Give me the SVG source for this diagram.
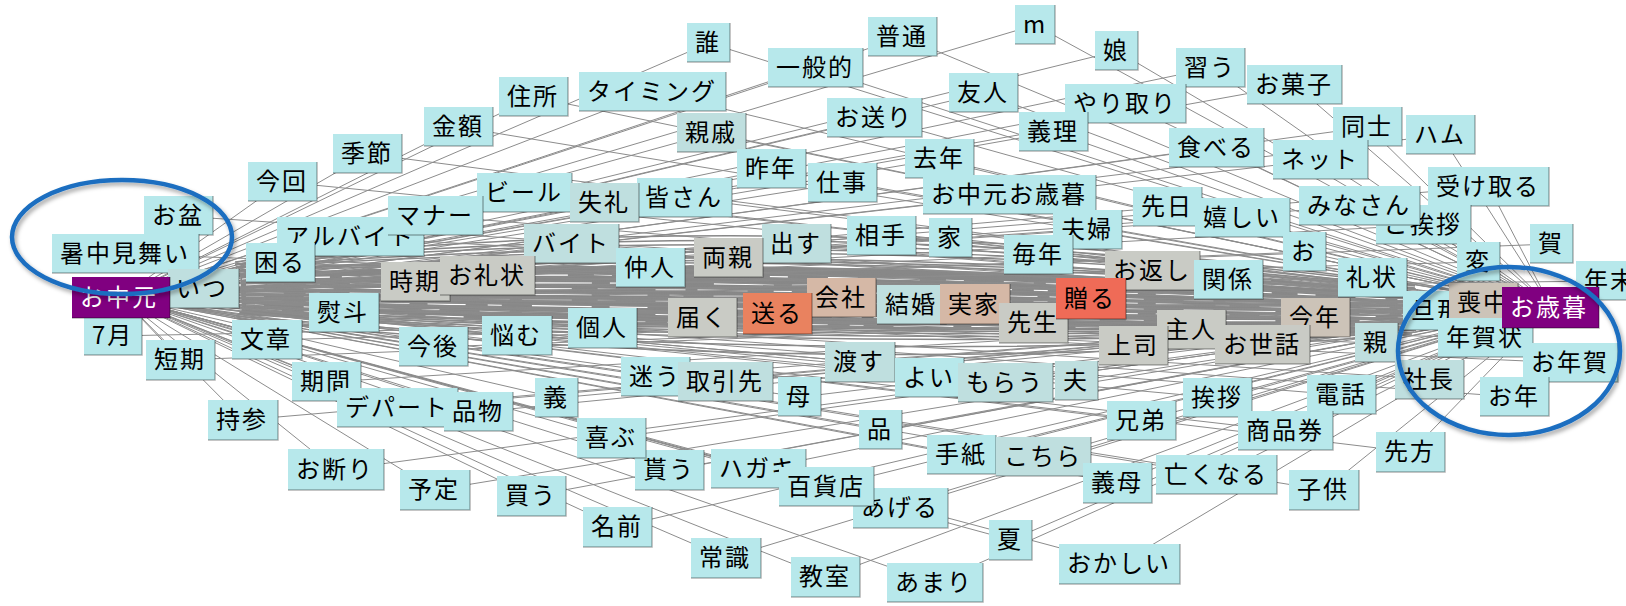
<svg xmlns="http://www.w3.org/2000/svg" width="1626" height="606" viewBox="0 0 1626 606">
<style>
.e{fill:none;stroke:#8c8c8c;stroke-width:1}
.band{fill:none;stroke:#888;stroke-width:1.5}
.core{fill:#888;stroke:none}
.streak{fill:none;stroke:#fff;stroke-width:1.2}
.nd rect{fill:#b7e8eb}
.nd path{fill:none;stroke:#000;stroke-opacity:.3;stroke-width:1.5}
.nd text{font-family:"Noto Sans CJK JP","Noto Sans",sans-serif;font-size:24px;letter-spacing:2px;fill:#000}
.g rect{fill:#bfdfdf}
.s rect{fill:#c9cbc5}
.s2 rect{fill:#ccc3b8}
.t rect{fill:#d5b8a6}
.o rect{fill:#e9825f}
.r rect{fill:#ef6b57}
.p rect{fill:#800080}
.p text{fill:#fff}
.ring{fill:none;stroke:#1a6ec0;stroke-width:4.5}
</style>
<defs>
<filter id="sh" x="-10%" y="-10%" width="120%" height="130%"><feDropShadow dx="2" dy="3" stdDeviation="2" flood-color="#000" flood-opacity="0.35"/></filter>
</defs>
<rect width="1626" height="606" fill="#fff"/>
<g id="connectors">
<path class="core" d="M240,274Q820,250 1420,296L1420,326Q820,340 242,310Z"/>
<path class="band" d="M235,262Q820,200 1415,285M235,264Q820,208 1415,286M235,265Q820,215 1415,288M236,267Q820,222 1416,289M238,268Q820,228 1418,290M238,270Q820,238 1418,292M240,271Q820,242 1419,293M240,272Q820,246 1420,294M240,274Q820,252 1420,296M242,276Q820,258 1420,298M242,278Q820,263 1422,300M244,280Q820,267 1422,302M244,282Q820,271 1424,304M246,284Q820,275 1424,305M246,286Q820,279 1424,306M246,288Q820,283 1426,308M246,290Q820,287 1426,310M246,292Q820,291 1426,311M246,294Q820,295 1426,312M246,296Q820,299 1426,314M246,298Q820,303 1426,315M246,300Q820,308 1426,316M246,302Q820,313 1426,318M246,304Q820,318 1424,320M244,306Q820,324 1424,322M244,308Q820,330 1422,324M242,310Q820,337 1420,326M241,311Q820,341 1419,327M240,312Q820,345 1418,328M239,313Q820,350 1417,329M238,314Q820,355 1416,330M236,316Q820,368 1414,332M234,318Q820,382 1412,334"/>
<path class="streak" stroke-dasharray="38 22 14 30 60 18" d="M246,285Q820,276 1424,305M246,293Q820,293 1426,311M246,301Q820,311 1426,317M244,309Q820,333 1422,325"/>
<path class="streak" stroke-dasharray="18 40 30 12 50 26" d="M246,289Q820,285 1426,309M246,297Q820,301 1426,315M246,305Q820,321 1424,321M242,279Q820,265 1422,301"/>
<path id="e-ochugen" class="e" d="M121 297L709 43M121 297L903 37M121 297L1035 25M121 297L1117 51M121 297L1211 68M121 297L815 68M121 297L653 92M121 297L534 97M121 297L984 93M121 297L1126 104M121 297L1295 85M121 297L875 118M121 297L459 127M121 297L712 133M121 297L1054 132M121 297L1368 127M121 297L1441 135M121 297L1217 148M121 297L1321 160M121 297L368 154M121 297L772 169M121 297L940 159M121 297L283 182M121 297L843 183M121 297L1489 187M121 297L1010 195M121 297L525 193M121 297L685 198M121 297L605 203M121 297L1168 207M121 297L1360 206M121 297L436 216M121 297L1243 218M121 297L1423 225M121 297L1088 230M121 297L882 236M121 297L951 238M121 297L351 237M121 297L797 244M121 297L572 244M121 297L1552 244M121 297L1039 255M121 297L1305 252M121 297L729 258M121 297L1479 262M121 297L281 263M121 297L651 268M121 297L1153 271M121 297L488 276M121 297L416 282M121 297L1373 278M121 297L1229 279M121 297L1610 281M121 297L842 298M121 297L1091 299M121 297L1484 303M121 297L912 305M121 297L975 305M121 297L1438 311M121 297L778 314M121 297L344 313M121 297L703 318M121 297L1316 318M121 297L1034 323M121 297L603 328M121 297L1192 330M121 297L517 336M121 297L267 340M121 297L1263 345M121 297L1485 338M121 297L1377 343M121 297L1134 346M121 297L434 347M121 297L181 360M121 297L860 362M121 297L1570 363M121 297L656 377M121 297L930 378M121 297L1430 379M121 297L1077 381M121 297L327 382M121 297L726 382M121 297L1006 383M121 297L1342 395M121 297L800 397M121 297L1515 397M121 297L557 398M121 297L1218 398M121 297L398 408M121 297L479 412M121 297L243 420M121 297L1142 421M121 297L881 430M121 297L1286 431M121 297L612 438M121 297L1411 452M121 297L962 455M121 297L1044 457M121 297L759 469M121 297L670 470M121 297L336 470M121 297L1217 475M121 297L1118 483M121 297L827 487M121 297L435 490M121 297L1324 490M121 297L532 496M121 297L901 508M121 297L618 527M121 297L1011 540M121 297L726 558M121 297L1120 564M121 297L826 577M121 297L935 583M121 297L1551 307"/>
<path id="e-oseibo" class="e" d="M1551 307L709 43M1551 307L903 37M1551 307L1035 25M1551 307L1117 51M1551 307L1211 68M1551 307L815 68M1551 307L653 92M1551 307L534 97M1551 307L984 93M1551 307L1126 104M1551 307L1295 85M1551 307L875 118M1551 307L459 127M1551 307L712 133M1551 307L1054 132M1551 307L1368 127M1551 307L1441 135M1551 307L1217 148M1551 307L1321 160M1551 307L368 154M1551 307L772 169M1551 307L940 159M1551 307L283 182M1551 307L843 183M1551 307L1489 187M1551 307L1010 195M1551 307L525 193M1551 307L685 198M1551 307L605 203M1551 307L1168 207M1551 307L1360 206M1551 307L436 216M1551 307L179 216M1551 307L1243 218M1551 307L1423 225M1551 307L1088 230M1551 307L882 236M1551 307L951 238M1551 307L351 237M1551 307L797 244M1551 307L572 244M1551 307L126 254M1551 307L1039 255M1551 307L1305 252M1551 307L729 258M1551 307L281 263M1551 307L651 268M1551 307L1153 271M1551 307L488 276M1551 307L416 282M1551 307L1373 278M1551 307L1229 279M1551 307L204 289M1551 307L842 298M1551 307L1091 299M1551 307L912 305M1551 307L975 305M1551 307L778 314M1551 307L344 313M1551 307L703 318M1551 307L1316 318M1551 307L1034 323M1551 307L603 328M1551 307L1192 330M1551 307L517 336M1551 307L267 340M1551 307L113 336M1551 307L1263 345M1551 307L1377 343M1551 307L1134 346M1551 307L434 347M1551 307L181 360M1551 307L860 362M1551 307L656 377M1551 307L930 378M1551 307L1430 379M1551 307L1077 381M1551 307L327 382M1551 307L726 382M1551 307L1006 383M1551 307L1342 395M1551 307L800 397M1551 307L557 398M1551 307L1218 398M1551 307L398 408M1551 307L479 412M1551 307L243 420M1551 307L1142 421M1551 307L881 430M1551 307L1286 431M1551 307L612 438M1551 307L1411 452M1551 307L962 455M1551 307L1044 457M1551 307L759 469M1551 307L670 470M1551 307L336 470M1551 307L1217 475M1551 307L1118 483M1551 307L827 487M1551 307L435 490M1551 307L1324 490M1551 307L532 496M1551 307L901 508M1551 307L618 527M1551 307L1011 540M1551 307L726 558M1551 307L1120 564M1551 307L826 577M1551 307L935 583"/>
</g>
<g id="nodes">
<g id="n1" class="nd" transform="translate(687 23)"><rect width="43" height="39"/><path d="M0 39H43V0"/><text x="8" y="28">誰</text></g>
<g id="n2" class="nd" transform="translate(868 17)"><rect width="69" height="39"/><path d="M0 39H69V0"/><text x="8" y="28">普通</text></g>
<g id="n3" class="nd" transform="translate(1015 5)"><rect width="40" height="39"/><path d="M0 39H40V0"/><text x="8" y="28">m</text></g>
<g id="n4" class="nd" transform="translate(1095 31)"><rect width="43" height="39"/><path d="M0 39H43V0"/><text x="8" y="28">娘</text></g>
<g id="n5" class="nd" transform="translate(768 48)"><rect width="95" height="39"/><path d="M0 39H95V0"/><text x="8" y="28">一般的</text></g>
<g id="n6" class="nd" transform="translate(1176 48)"><rect width="69" height="39"/><path d="M0 39H69V0"/><text x="8" y="28">習う</text></g>
<g id="n7" class="nd" transform="translate(1247 65)"><rect width="95" height="39"/><path d="M0 39H95V0"/><text x="8" y="28">お菓子</text></g>
<g id="n8" class="nd" transform="translate(579 72)"><rect width="147" height="39"/><path d="M0 39H147V0"/><text x="8" y="28">タイミング</text></g>
<g id="n9" class="nd" transform="translate(949 73)"><rect width="69" height="39"/><path d="M0 39H69V0"/><text x="8" y="28">友人</text></g>
<g id="n10" class="nd" transform="translate(499 77)"><rect width="69" height="39"/><path d="M0 39H69V0"/><text x="8" y="28">住所</text></g>
<g id="n11" class="nd" transform="translate(1065 84)"><rect width="121" height="39"/><path d="M0 39H121V0"/><text x="8" y="28">やり取り</text></g>
<g id="n12" class="nd" transform="translate(827 98)"><rect width="95" height="39"/><path d="M0 39H95V0"/><text x="8" y="28">お送り</text></g>
<g id="n13" class="nd" transform="translate(424 107)"><rect width="69" height="39"/><path d="M0 39H69V0"/><text x="8" y="28">金額</text></g>
<g id="n14" class="nd" transform="translate(1333 107)"><rect width="69" height="39"/><path d="M0 39H69V0"/><text x="8" y="28">同士</text></g>
<g id="n15" class="nd" transform="translate(1019 112)"><rect width="69" height="39"/><path d="M0 39H69V0"/><text x="8" y="28">義理</text></g>
<g id="n16" class="nd g" transform="translate(677 113)"><rect width="69" height="39"/><path d="M0 39H69V0"/><text x="8" y="28">親戚</text></g>
<g id="n17" class="nd" transform="translate(1406 115)"><rect width="69" height="39"/><path d="M0 39H69V0"/><text x="8" y="28">ハム</text></g>
<g id="n18" class="nd" transform="translate(1169 128)"><rect width="95" height="39"/><path d="M0 39H95V0"/><text x="8" y="28">食べる</text></g>
<g id="n19" class="nd" transform="translate(333 134)"><rect width="69" height="39"/><path d="M0 39H69V0"/><text x="8" y="28">季節</text></g>
<g id="n20" class="nd" transform="translate(905 139)"><rect width="69" height="39"/><path d="M0 39H69V0"/><text x="8" y="28">去年</text></g>
<g id="n21" class="nd" transform="translate(1273 140)"><rect width="95" height="39"/><path d="M0 39H95V0"/><text x="8" y="28">ネット</text></g>
<g id="n22" class="nd" transform="translate(737 149)"><rect width="69" height="39"/><path d="M0 39H69V0"/><text x="8" y="28">昨年</text></g>
<g id="n23" class="nd" transform="translate(248 162)"><rect width="69" height="39"/><path d="M0 39H69V0"/><text x="8" y="28">今回</text></g>
<g id="n24" class="nd" transform="translate(808 163)"><rect width="69" height="39"/><path d="M0 39H69V0"/><text x="8" y="28">仕事</text></g>
<g id="n25" class="nd" transform="translate(1428 167)"><rect width="121" height="39"/><path d="M0 39H121V0"/><text x="8" y="28">受け取る</text></g>
<g id="n26" class="nd" transform="translate(477 173)"><rect width="95" height="39"/><path d="M0 39H95V0"/><text x="8" y="28">ビール</text></g>
<g id="n27" class="nd" transform="translate(923 175)"><rect width="173" height="39"/><path d="M0 39H173V0"/><text x="8" y="28">お中元お歳暮</text></g>
<g id="n28" class="nd" transform="translate(637 178)"><rect width="95" height="39"/><path d="M0 39H95V0"/><text x="8" y="28">皆さん</text></g>
<g id="n29" class="nd g" transform="translate(570 183)"><rect width="69" height="39"/><path d="M0 39H69V0"/><text x="8" y="28">失礼</text></g>
<g id="n30" class="nd" transform="translate(1133 187)"><rect width="69" height="39"/><path d="M0 39H69V0"/><text x="8" y="28">先日</text></g>
<g id="n31" class="nd" transform="translate(1376 205)"><rect width="95" height="39"/><path d="M0 39H95V0"/><text x="8" y="28">ご挨拶</text></g>
<g id="n32" class="nd" transform="translate(1299 186)"><rect width="121" height="39"/><path d="M0 39H121V0"/><text x="8" y="28">みなさん</text></g>
<g id="n33" class="nd" transform="translate(144 196)"><rect width="69" height="39"/><path d="M0 39H69V0"/><text x="8" y="28">お盆</text></g>
<g id="n34" class="nd" transform="translate(1195 198)"><rect width="95" height="39"/><path d="M0 39H95V0"/><text x="8" y="28">嬉しい</text></g>
<g id="n35" class="nd" transform="translate(1053 210)"><rect width="69" height="39"/><path d="M0 39H69V0"/><text x="8" y="28">夫婦</text></g>
<g id="n36" class="nd" transform="translate(847 216)"><rect width="69" height="39"/><path d="M0 39H69V0"/><text x="8" y="28">相手</text></g>
<g id="n37" class="nd" transform="translate(277 217)"><rect width="147" height="39"/><path d="M0 39H147V0"/><text x="8" y="28">アルバイト</text></g>
<g id="n38" class="nd" transform="translate(388 196)"><rect width="95" height="39"/><path d="M0 39H95V0"/><text x="8" y="28">マナー</text></g>
<g id="n39" class="nd" transform="translate(929 218)"><rect width="43" height="39"/><path d="M0 39H43V0"/><text x="8" y="28">家</text></g>
<g id="n40" class="nd g" transform="translate(762 224)"><rect width="69" height="39"/><path d="M0 39H69V0"/><text x="8" y="28">出す</text></g>
<g id="n41" class="nd g" transform="translate(524 224)"><rect width="95" height="39"/><path d="M0 39H95V0"/><text x="8" y="28">バイト</text></g>
<g id="n42" class="nd" transform="translate(1530 224)"><rect width="43" height="39"/><path d="M0 39H43V0"/><text x="8" y="28">賀</text></g>
<g id="n43" class="nd" transform="translate(1283 232)"><rect width="43" height="39"/><path d="M0 39H43V0"/><text x="8" y="28">お</text></g>
<g id="n44" class="nd" transform="translate(52 234)"><rect width="147" height="39"/><path d="M0 39H147V0"/><text x="8" y="28">暑中見舞い</text></g>
<g id="n45" class="nd" transform="translate(1004 235)"><rect width="69" height="39"/><path d="M0 39H69V0"/><text x="8" y="28">毎年</text></g>
<g id="n46" class="nd s" transform="translate(694 238)"><rect width="69" height="39"/><path d="M0 39H69V0"/><text x="8" y="28">両親</text></g>
<g id="n47" class="nd" transform="translate(1457 242)"><rect width="43" height="39"/><path d="M0 39H43V0"/><text x="8" y="28">変</text></g>
<g id="n48" class="nd" transform="translate(246 243)"><rect width="69" height="39"/><path d="M0 39H69V0"/><text x="8" y="28">困る</text></g>
<g id="n49" class="nd" transform="translate(616 248)"><rect width="69" height="39"/><path d="M0 39H69V0"/><text x="8" y="28">仲人</text></g>
<g id="n50" class="nd s" transform="translate(1105 251)"><rect width="95" height="39"/><path d="M0 39H95V0"/><text x="8" y="28">お返し</text></g>
<g id="n51" class="nd s" transform="translate(381 262)"><rect width="69" height="39"/><path d="M0 39H69V0"/><text x="8" y="28">時期</text></g>
<g id="n52" class="nd s" transform="translate(440 256)"><rect width="95" height="39"/><path d="M0 39H95V0"/><text x="8" y="28">お礼状</text></g>
<g id="n53" class="nd" transform="translate(1338 258)"><rect width="69" height="39"/><path d="M0 39H69V0"/><text x="8" y="28">礼状</text></g>
<g id="n54" class="nd" transform="translate(1194 260)"><rect width="69" height="39"/><path d="M0 39H69V0"/><text x="8" y="28">関係</text></g>
<g id="n55" class="nd" transform="translate(1576 261)"><rect width="69" height="39"/><path d="M0 39H69V0"/><text x="8" y="28">年末</text></g>
<g id="n56" class="nd g" transform="translate(168 269)"><rect width="71" height="39"/><path d="M0 39H71V0"/><text x="8" y="28">いつ</text></g>
<g id="n57" class="nd t" transform="translate(807 278)"><rect width="69" height="39"/><path d="M0 39H69V0"/><text x="8" y="28">会社</text></g>
<g id="n58" class="nd g" transform="translate(877 285)"><rect width="69" height="39"/><path d="M0 39H69V0"/><text x="8" y="28">結婚</text></g>
<g id="n59" class="nd t" transform="translate(940 284)"><rect width="70" height="40"/><path d="M0 40H70V0"/><text x="8" y="29">実家</text></g>
<g id="n60" class="nd" transform="translate(1403 291)"><rect width="69" height="39"/><path d="M0 39H69V0"/><text x="8" y="28">旦那</text></g>
<g id="n61" class="nd s2" transform="translate(1449 283)"><rect width="69" height="39"/><path d="M0 39H69V0"/><text x="8" y="28">喪中</text></g>
<g id="n62" class="nd o" transform="translate(743 293)"><rect width="69" height="41"/><path d="M0 41H69V0"/><text x="8" y="29">送る</text></g>
<g id="n63" class="nd" transform="translate(309 293)"><rect width="70" height="39"/><path d="M0 39H70V0"/><text x="8" y="28">熨斗</text></g>
<g id="n64" class="nd s" transform="translate(668 298)"><rect width="69" height="39"/><path d="M0 39H69V0"/><text x="8" y="28">届く</text></g>
<g id="n65" class="nd s2" transform="translate(1281 298)"><rect width="69" height="39"/><path d="M0 39H69V0"/><text x="8" y="28">今年</text></g>
<g id="n66" class="nd s" transform="translate(999 303)"><rect width="69" height="40"/><path d="M0 40H69V0"/><text x="8" y="28">先生</text></g>
<g id="n67" class="nd r" transform="translate(1056 278)"><rect width="70" height="41"/><path d="M0 41H70V0"/><text x="8" y="29">贈る</text></g>
<g id="n68" class="nd" transform="translate(568 308)"><rect width="69" height="40"/><path d="M0 40H69V0"/><text x="8" y="28">個人</text></g>
<g id="n69" class="nd s" transform="translate(1157 310)"><rect width="69" height="39"/><path d="M0 39H69V0"/><text x="8" y="28">主人</text></g>
<g id="n70" class="nd" transform="translate(482 316)"><rect width="70" height="39"/><path d="M0 39H70V0"/><text x="8" y="28">悩む</text></g>
<g id="n71" class="nd" transform="translate(232 320)"><rect width="70" height="39"/><path d="M0 39H70V0"/><text x="8" y="28">文章</text></g>
<g id="n72" class="nd" transform="translate(84 316)"><rect width="58" height="39"/><path d="M0 39H58V0"/><text x="8" y="28">7月</text></g>
<g id="n73" class="nd" transform="translate(1438 318)"><rect width="95" height="39"/><path d="M0 39H95V0"/><text x="8" y="28">年賀状</text></g>
<g id="n74" class="nd g" transform="translate(1355 323)"><rect width="43" height="39"/><path d="M0 39H43V0"/><text x="8" y="28">親</text></g>
<g id="n75" class="nd s" transform="translate(1215 325)"><rect width="95" height="39"/><path d="M0 39H95V0"/><text x="8" y="28">お世話</text></g>
<g id="n76" class="nd s" transform="translate(1099 326)"><rect width="69" height="39"/><path d="M0 39H69V0"/><text x="8" y="28">上司</text></g>
<g id="n77" class="nd" transform="translate(399 327)"><rect width="69" height="39"/><path d="M0 39H69V0"/><text x="8" y="28">今後</text></g>
<g id="n78" class="nd" transform="translate(146 340)"><rect width="69" height="40"/><path d="M0 40H69V0"/><text x="8" y="28">短期</text></g>
<g id="n79" class="nd g" transform="translate(825 342)"><rect width="70" height="40"/><path d="M0 40H70V0"/><text x="8" y="28">渡す</text></g>
<g id="n80" class="nd" transform="translate(1523 343)"><rect width="95" height="39"/><path d="M0 39H95V0"/><text x="8" y="28">お年賀</text></g>
<g id="n81" class="nd" transform="translate(621 357)"><rect width="69" height="39"/><path d="M0 39H69V0"/><text x="8" y="28">迷う</text></g>
<g id="n82" class="nd" transform="translate(895 358)"><rect width="69" height="39"/><path d="M0 39H69V0"/><text x="8" y="28">よい</text></g>
<g id="n83" class="nd g" transform="translate(1395 360)"><rect width="69" height="39"/><path d="M0 39H69V0"/><text x="8" y="28">社長</text></g>
<g id="n84" class="nd g" transform="translate(1055 361)"><rect width="43" height="39"/><path d="M0 39H43V0"/><text x="8" y="28">夫</text></g>
<g id="n85" class="nd" transform="translate(292 362)"><rect width="69" height="39"/><path d="M0 39H69V0"/><text x="8" y="28">期間</text></g>
<g id="n86" class="nd g" transform="translate(678 362)"><rect width="95" height="39"/><path d="M0 39H95V0"/><text x="8" y="28">取引先</text></g>
<g id="n87" class="nd g" transform="translate(958 363)"><rect width="95" height="39"/><path d="M0 39H95V0"/><text x="8" y="28">もらう</text></g>
<g id="n88" class="nd" transform="translate(1307 375)"><rect width="69" height="39"/><path d="M0 39H69V0"/><text x="8" y="28">電話</text></g>
<g id="n89" class="nd" transform="translate(778 377)"><rect width="43" height="39"/><path d="M0 39H43V0"/><text x="8" y="28">母</text></g>
<g id="n90" class="nd" transform="translate(1480 377)"><rect width="69" height="39"/><path d="M0 39H69V0"/><text x="8" y="28">お年</text></g>
<g id="n91" class="nd" transform="translate(535 378)"><rect width="43" height="39"/><path d="M0 39H43V0"/><text x="8" y="28">義</text></g>
<g id="n92" class="nd" transform="translate(1183 378)"><rect width="69" height="39"/><path d="M0 39H69V0"/><text x="8" y="28">挨拶</text></g>
<g id="n93" class="nd" transform="translate(337 388)"><rect width="121" height="39"/><path d="M0 39H121V0"/><text x="8" y="28">デパート</text></g>
<g id="n94" class="nd" transform="translate(444 392)"><rect width="69" height="39"/><path d="M0 39H69V0"/><text x="8" y="28">品物</text></g>
<g id="n95" class="nd" transform="translate(208 400)"><rect width="70" height="40"/><path d="M0 40H70V0"/><text x="8" y="28">持参</text></g>
<g id="n96" class="nd" transform="translate(1107 401)"><rect width="69" height="39"/><path d="M0 39H69V0"/><text x="8" y="28">兄弟</text></g>
<g id="n97" class="nd" transform="translate(859 410)"><rect width="43" height="39"/><path d="M0 39H43V0"/><text x="8" y="28">品</text></g>
<g id="n98" class="nd" transform="translate(1238 411)"><rect width="95" height="39"/><path d="M0 39H95V0"/><text x="8" y="28">商品券</text></g>
<g id="n99" class="nd" transform="translate(635 450)"><rect width="69" height="40"/><path d="M0 40H69V0"/><text x="8" y="28">貰う</text></g>
<g id="n100" class="nd" transform="translate(577 418)"><rect width="69" height="40"/><path d="M0 40H69V0"/><text x="8" y="28">喜ぶ</text></g>
<g id="n101" class="nd" transform="translate(1376 432)"><rect width="69" height="40"/><path d="M0 40H69V0"/><text x="8" y="28">先方</text></g>
<g id="n102" class="nd" transform="translate(927 435)"><rect width="69" height="39"/><path d="M0 39H69V0"/><text x="8" y="28">手紙</text></g>
<g id="n103" class="nd g" transform="translate(996 437)"><rect width="95" height="39"/><path d="M0 39H95V0"/><text x="8" y="28">こちら</text></g>
<g id="n104" class="nd" transform="translate(711 449)"><rect width="95" height="39"/><path d="M0 39H95V0"/><text x="8" y="28">ハガキ</text></g>
<g id="n105" class="nd" transform="translate(288 449)"><rect width="96" height="41"/><path d="M0 41H96V0"/><text x="8" y="29">お断り</text></g>
<g id="n106" class="nd" transform="translate(1156 455)"><rect width="121" height="39"/><path d="M0 39H121V0"/><text x="8" y="28">亡くなる</text></g>
<g id="n107" class="nd" transform="translate(1083 463)"><rect width="69" height="40"/><path d="M0 40H69V0"/><text x="8" y="28">義母</text></g>
<g id="n108" class="nd" transform="translate(853 488)"><rect width="95" height="40"/><path d="M0 40H95V0"/><text x="8" y="28">あげる</text></g>
<g id="n109" class="nd" transform="translate(779 467)"><rect width="95" height="39"/><path d="M0 39H95V0"/><text x="8" y="28">百貨店</text></g>
<g id="n110" class="nd" transform="translate(400 470)"><rect width="70" height="40"/><path d="M0 40H70V0"/><text x="8" y="28">予定</text></g>
<g id="n111" class="nd" transform="translate(1289 470)"><rect width="70" height="40"/><path d="M0 40H70V0"/><text x="8" y="28">子供</text></g>
<g id="n112" class="nd" transform="translate(497 476)"><rect width="69" height="40"/><path d="M0 40H69V0"/><text x="8" y="28">買う</text></g>
<g id="n113" class="nd" transform="translate(583 507)"><rect width="69" height="40"/><path d="M0 40H69V0"/><text x="8" y="28">名前</text></g>
<g id="n114" class="nd" transform="translate(989 520)"><rect width="43" height="40"/><path d="M0 40H43V0"/><text x="8" y="28">夏</text></g>
<g id="n115" class="nd" transform="translate(691 538)"><rect width="70" height="40"/><path d="M0 40H70V0"/><text x="8" y="28">常識</text></g>
<g id="n116" class="nd" transform="translate(1059 544)"><rect width="121" height="40"/><path d="M0 40H121V0"/><text x="8" y="28">おかしい</text></g>
<g id="n117" class="nd" transform="translate(791 557)"><rect width="69" height="40"/><path d="M0 40H69V0"/><text x="8" y="28">教室</text></g>
<g id="n118" class="nd" transform="translate(887 563)"><rect width="96" height="39"/><path d="M0 39H96V0"/><text x="8" y="28">あまり</text></g>
<g id="hub-ochugen" class="nd p" transform="translate(72 277)"><rect width="98" height="41"/><path d="M0 41H98V0"/><text x="8" y="29">お中元</text></g>
<g id="hub-oseibo" class="nd p" transform="translate(1502 287)"><rect width="97" height="41"/><path d="M0 41H97V0"/><text x="8" y="29">お歳暮</text></g>
</g>
<g id="highlights" filter="url(#sh)">
<ellipse class="ring" cx="122" cy="237" rx="110" ry="57"/>
<ellipse class="ring" cx="1509" cy="351" rx="111" ry="84"/>
</g>
</svg>
